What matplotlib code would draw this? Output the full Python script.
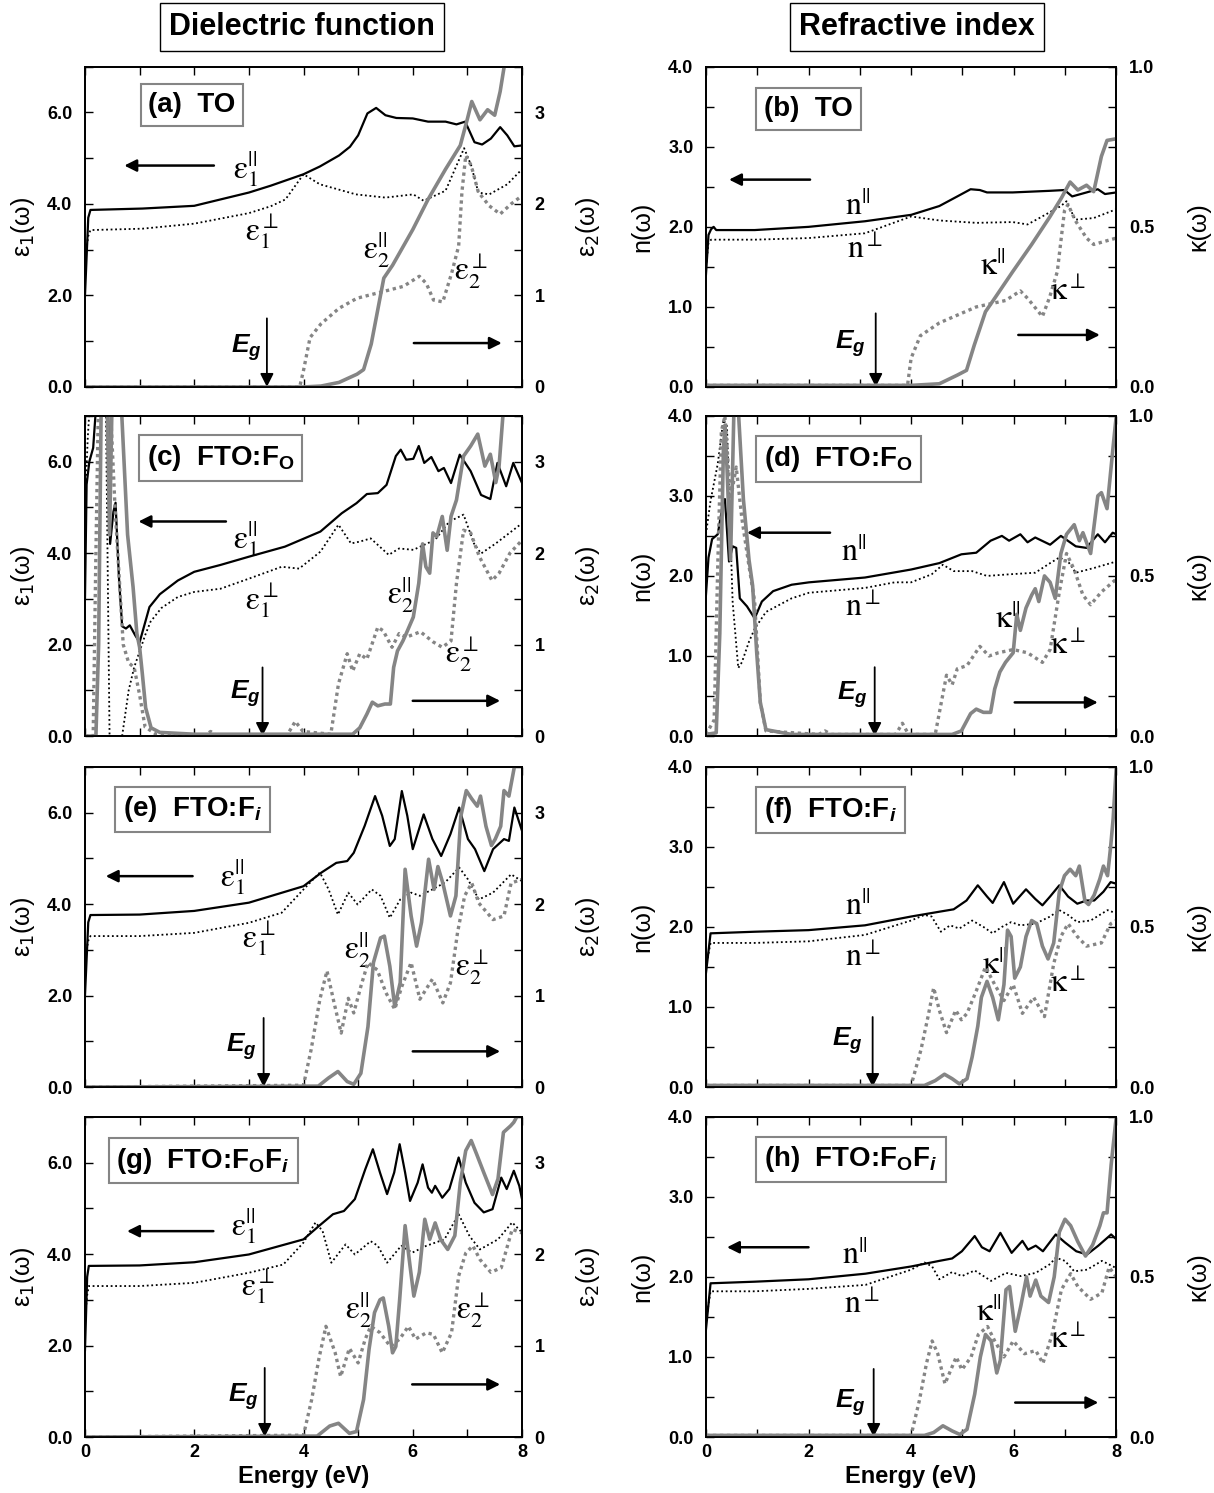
import matplotlib
matplotlib.use('Agg')
import matplotlib.pyplot as plt
from matplotlib.ticker import MultipleLocator, FormatStrFormatter

plt.rcParams['font.family'] = ['Liberation Sans', 'DejaVu Sans']
plt.rcParams['mathtext.fontset'] = 'custom'
plt.rcParams['mathtext.rm'] = 'Liberation Sans:bold'
plt.rcParams['mathtext.it'] = 'Liberation Sans:italic:bold'
plt.rcParams['mathtext.bf'] = 'Liberation Sans:bold'

# ---- (a) TO : dielectric function ----
A_E1PAR_E = [0.0, 0.06, 0.1, 1.05, 2.0, 3.0, 3.4, 4.0, 4.3, 4.65, 4.85, 5.0, 5.17, 5.33, 5.5, 5.7, 6.0, 6.28, 6.6, 6.8, 6.96, 7.13, 7.27, 7.43, 7.6, 7.73, 7.86, 8.0]
A_E1PAR = [2.0, 3.7, 3.87, 3.9, 3.96, 4.25, 4.4, 4.65, 4.82, 5.06, 5.25, 5.5, 5.98, 6.1, 5.94, 5.88, 5.87, 5.8, 5.8, 5.74, 5.8, 5.35, 5.3, 5.43, 5.68, 5.5, 5.26, 5.28]
A_E1PERP_E = [0.0, 0.06, 0.1, 1.05, 2.0, 3.0, 3.4, 3.67, 4.0, 4.3, 4.96, 5.5, 6.01, 6.2, 6.6, 6.94, 7.07, 7.2, 7.4, 7.73, 8.0]
A_E1PERP = [2.8, 3.3, 3.43, 3.46, 3.57, 3.8, 3.95, 4.1, 4.65, 4.43, 4.21, 4.14, 4.21, 4.07, 4.29, 5.22, 4.84, 4.25, 4.21, 4.43, 4.76]
A_E2PAR_E = [0.0, 4.0, 4.32, 4.65, 4.98, 5.1, 5.24, 5.47, 5.63, 6.0, 6.28, 6.6, 6.87, 7.0, 7.08, 7.23, 7.37, 7.5, 7.6, 7.7, 8.0]
A_E2PAR = [0.0, 0.0, 0.01, 0.05, 0.14, 0.19, 0.47, 1.19, 1.33, 1.72, 2.05, 2.38, 2.64, 2.93, 3.12, 2.92, 3.03, 2.97, 3.23, 3.6, 4.5]
A_E2PERP_E = [0.0, 3.93, 4.0, 4.12, 4.32, 4.65, 4.98, 5.44, 5.83, 6.12, 6.25, 6.38, 6.55, 6.71, 6.84, 6.9, 6.97, 7.07, 7.2, 7.4, 7.6, 7.8, 8.0]
A_E2PERP = [0.0, 0.0, 0.18, 0.54, 0.69, 0.86, 0.97, 1.04, 1.1, 1.21, 1.13, 0.95, 0.93, 1.24, 1.54, 2.13, 2.53, 2.42, 2.13, 1.98, 1.89, 2.0, 2.09]

# ---- (b) TO : refractive index ----
B_NPAR_E = [0.0, 0.05, 0.1, 0.15, 0.2, 0.95, 2.0, 3.1, 4.0, 4.55, 4.9, 5.16, 5.34, 5.48, 5.98, 6.7, 6.99, 7.14, 7.42, 7.64, 7.78, 8.0]
B_NPAR = [1.4, 1.9, 1.97, 2.0, 1.96, 1.96, 2.0, 2.07, 2.15, 2.26, 2.38, 2.47, 2.46, 2.43, 2.43, 2.45, 2.46, 2.38, 2.43, 2.47, 2.41, 2.43]
B_NPERP_E = [0.0, 0.05, 0.1, 0.95, 2.0, 3.1, 4.0, 4.55, 5.27, 5.98, 6.27, 6.5, 6.92, 7.03, 7.2, 7.56, 8.0]
B_NPERP = [1.5, 1.8, 1.84, 1.84, 1.86, 1.92, 2.13, 2.08, 2.05, 2.06, 2.03, 2.11, 2.26, 2.32, 2.09, 2.11, 2.22]
B_KPAR_E = [0.0, 4.0, 4.55, 4.9, 5.08, 5.23, 5.45, 5.6, 5.98, 6.35, 6.7, 6.93, 7.1, 7.25, 7.42, 7.56, 7.71, 7.82, 8.0]
B_KPAR = [0.005, 0.005, 0.01, 0.037, 0.052, 0.13, 0.235, 0.27, 0.36, 0.445, 0.53, 0.59, 0.64, 0.615, 0.63, 0.61, 0.72, 0.77, 0.775]
B_KPERP_E = [0.0, 3.93, 4.0, 4.18, 4.55, 5.27, 5.84, 6.13, 6.27, 6.56, 6.7, 6.85, 6.99, 7.06, 7.2, 7.42, 7.56, 8.0]
B_KPERP = [0.005, 0.005, 0.09, 0.16, 0.2, 0.25, 0.27, 0.3, 0.277, 0.22, 0.28, 0.36, 0.55, 0.57, 0.52, 0.465, 0.445, 0.465]

# ---- (c) FTO:Fo : dielectric function ----
C_E1PAR_E = [0.0, 0.03, 0.08, 0.15, 0.22, 0.42, 0.46, 0.52, 0.56, 0.62, 0.68, 0.75, 0.82, 0.92, 1.0, 1.18, 1.37, 1.7, 2.0, 2.48, 3.0, 3.66, 4.31, 4.7, 4.97, 5.16, 5.36, 5.52, 5.69, 5.78, 5.88, 6.01, 6.11, 6.21, 6.34, 6.47, 6.57, 6.7, 6.86, 7.06, 7.25, 7.42, 7.55, 7.71, 7.84, 8.0]
C_E1PAR = [3.0, 5.5, 6.0, 6.3, 7.5, 7.5, 4.2, 4.9, 5.1, 3.5, 2.4, 2.35, 2.42, 2.2, 2.05, 2.82, 3.1, 3.4, 3.59, 3.74, 3.92, 4.14, 4.47, 4.87, 5.09, 5.29, 5.31, 5.49, 6.12, 6.26, 6.04, 6.06, 6.34, 5.97, 6.1, 5.79, 5.86, 5.53, 6.15, 5.79, 5.27, 5.18, 5.97, 5.46, 5.97, 5.53]
C_E1PERP_E = [0.0, 0.05, 0.1, 0.38, 0.45, 0.47, 0.64, 0.68, 0.8, 0.9, 1.0, 1.1, 1.2, 1.4, 1.7, 2.0, 2.48, 3.0, 3.6, 3.92, 4.31, 4.64, 4.87, 5.03, 5.23, 5.56, 5.75, 6.01, 6.41, 6.67, 6.93, 7.12, 7.25, 7.52, 8.0]
C_E1PERP = [5.0, 6.5, 7.5, 7.5, 0.0, -0.5, -0.5, 0.0, 1.0, 1.5, 1.85, 2.2, 2.5, 2.8, 3.04, 3.15, 3.22, 3.44, 3.7, 3.66, 4.03, 4.62, 4.21, 4.25, 4.32, 3.96, 4.1, 4.07, 4.29, 4.69, 4.84, 4.21, 3.99, 4.21, 4.65]
C_E2PAR_E = [0.0, 0.2, 0.25, 0.3, 0.4, 0.45, 0.5, 0.65, 0.78, 0.88, 0.95, 1.0, 1.05, 1.11, 1.21, 1.37, 2.0, 4.9, 5.03, 5.16, 5.26, 5.36, 5.49, 5.59, 5.65, 5.72, 5.82, 5.88, 6.01, 6.11, 6.18, 6.24, 6.31, 6.37, 6.44, 6.54, 6.63, 6.7, 6.8, 6.93, 7.06, 7.19, 7.32, 7.42, 7.52, 7.58, 7.65, 8.0]
C_E2PAR = [0.0, 0.0, 1.0, 3.8, 3.8, 2.2, 3.8, 3.8, 2.2, 1.63, 1.12, 0.97, 0.68, 0.31, 0.09, 0.04, 0.02, 0.02, 0.09, 0.24, 0.37, 0.33, 0.35, 0.35, 0.75, 0.93, 1.04, 1.12, 1.3, 1.67, 2.1, 1.85, 1.78, 2.22, 2.18, 2.4, 2.03, 2.4, 2.58, 3.06, 3.17, 3.3, 2.95, 3.08, 2.77, 2.95, 3.5, 4.5]
C_E2PERP_E = [0.0, 0.15, 0.2, 0.25, 0.35, 0.45, 0.55, 0.7, 0.8, 0.9, 1.0, 1.1, 1.3, 2.2, 2.3, 2.4, 3.7, 3.85, 3.99, 4.5, 4.64, 4.8, 4.9, 5.03, 5.16, 5.36, 5.46, 5.62, 5.75, 5.88, 6.14, 6.37, 6.54, 6.7, 6.8, 6.93, 7.06, 7.22, 7.45, 7.58, 7.78, 8.0]
C_E2PERP = [0.0, 0.0, 2.0, 3.8, 3.8, 3.8, 2.5, 1.0, 0.8, 0.75, 0.45, 0.1, 0.02, 0.01, 0.05, 0.01, 0.01, 0.16, 0.05, 0.02, 0.57, 0.9, 0.71, 0.9, 0.84, 1.19, 1.15, 0.97, 1.12, 1.08, 1.14, 1.03, 0.97, 1.04, 1.67, 2.25, 2.22, 1.96, 1.7, 1.78, 2.0, 2.14]

# ---- (d) FTO:Fo : refractive index ----
D_NPAR_E = [0.0, 0.05, 0.12, 0.23, 0.34, 0.37, 0.45, 0.52, 0.59, 0.66, 0.8, 0.95, 1.09, 1.31, 1.67, 2.01, 3.1, 4.0, 4.55, 4.98, 5.27, 5.55, 5.77, 5.91, 6.13, 6.27, 6.42, 6.71, 6.92, 7.21, 7.42, 7.64, 7.78, 7.93, 8.0]
D_NPAR = [1.76, 2.23, 2.46, 2.52, 2.94, 2.96, 2.18, 2.37, 2.35, 1.72, 1.62, 1.47, 1.68, 1.81, 1.89, 1.92, 1.98, 2.08, 2.16, 2.27, 2.29, 2.44, 2.5, 2.44, 2.52, 2.42, 2.48, 2.39, 2.5, 2.37, 2.35, 2.52, 2.42, 2.54, 2.52]
D_NPERP_E = [0.0, 0.09, 0.23, 0.34, 0.41, 0.52, 0.63, 0.7, 0.84, 0.95, 1.17, 1.67, 2.01, 3.1, 3.68, 4.0, 4.4, 4.62, 4.83, 5.19, 5.48, 5.91, 6.42, 6.71, 6.89, 7.06, 7.21, 7.57, 8.0]
D_NPERP = [2.52, 2.94, 3.4, 3.95, 3.87, 1.68, 0.85, 0.92, 1.18, 1.34, 1.55, 1.72, 1.79, 1.85, 1.92, 1.92, 2.02, 2.14, 2.06, 2.06, 2.0, 2.02, 2.04, 2.16, 2.23, 2.18, 2.04, 2.1, 2.18]
D_KPAR_E = [0.0, 0.2, 0.27, 0.34, 0.37, 0.41, 0.48, 0.55, 0.62, 0.73, 0.84, 0.91, 0.99, 1.06, 1.17, 1.67, 4.8, 4.98, 5.16, 5.27, 5.41, 5.55, 5.63, 5.73, 5.84, 5.99, 6.06, 6.13, 6.24, 6.35, 6.42, 6.49, 6.6, 6.71, 6.81, 6.92, 7.03, 7.18, 7.28, 7.35, 7.5, 7.64, 7.71, 7.82, 7.93, 8.0]
D_KPAR = [0.005, 0.01, 0.32, 0.89, 0.97, 0.84, 0.55, 1.05, 1.05, 0.74, 0.55, 0.47, 0.26, 0.105, 0.02, 0.005, 0.005, 0.016, 0.07, 0.084, 0.074, 0.074, 0.147, 0.2, 0.23, 0.26, 0.38, 0.33, 0.4, 0.44, 0.46, 0.42, 0.5, 0.48, 0.43, 0.57, 0.63, 0.66, 0.61, 0.635, 0.57, 0.75, 0.76, 0.71, 0.89, 1.0]
D_KPERP_E = [0.0, 0.16, 0.23, 0.3, 0.37, 0.48, 0.59, 0.7, 0.84, 0.95, 1.06, 1.17, 2.2, 2.32, 2.45, 3.7, 3.83, 3.95, 4.47, 4.69, 4.8, 4.9, 5.09, 5.34, 5.52, 5.7, 5.99, 6.27, 6.56, 6.71, 6.89, 7.03, 7.18, 7.35, 7.5, 7.71, 8.0]
D_KPERP = [0.005, 0.05, 0.53, 0.95, 1.0, 0.74, 0.84, 0.68, 0.53, 0.42, 0.105, 0.016, 0.005, 0.016, 0.005, 0.005, 0.04, 0.005, 0.005, 0.19, 0.16, 0.21, 0.22, 0.28, 0.25, 0.26, 0.27, 0.26, 0.23, 0.27, 0.45, 0.57, 0.52, 0.44, 0.41, 0.45, 0.49]

# ---- (e) FTO:Fi : dielectric function ----
E_E1PAR_E = [0.0, 0.06, 0.1, 1.0, 2.0, 3.0, 4.0, 4.33, 4.6, 4.8, 4.92, 5.12, 5.31, 5.44, 5.58, 5.67, 5.8, 5.9, 6.0, 6.2, 6.36, 6.52, 6.69, 6.85, 7.01, 7.14, 7.31, 7.47, 7.67, 7.76, 7.86, 8.0]
E_E1PAR = [2.0, 3.6, 3.76, 3.77, 3.85, 4.03, 4.39, 4.69, 4.9, 4.94, 5.12, 5.71, 6.36, 5.93, 5.27, 5.42, 6.47, 5.93, 5.2, 5.96, 5.42, 5.05, 5.53, 6.11, 5.42, 5.2, 4.72, 5.2, 5.42, 5.38, 6.11, 5.6]
E_E1PERP_E = [0.0, 0.06, 0.1, 1.0, 2.0, 3.0, 3.6, 4.0, 4.3, 4.46, 4.63, 4.82, 4.99, 5.25, 5.41, 5.58, 5.77, 5.97, 6.13, 6.36, 6.59, 6.85, 7.01, 7.21, 7.47, 7.8, 8.0]
E_E1PERP = [2.8, 3.2, 3.3, 3.3, 3.37, 3.59, 3.81, 4.32, 4.69, 4.32, 3.77, 4.25, 3.99, 4.32, 4.18, 3.7, 4.1, 4.25, 4.18, 4.32, 4.47, 4.8, 4.54, 4.1, 4.25, 4.65, 4.5]
E_E2PAR_E = [0.0, 4.27, 4.46, 4.63, 4.8, 4.92, 5.05, 5.18, 5.28, 5.41, 5.48, 5.58, 5.67, 5.77, 5.86, 5.97, 6.07, 6.16, 6.29, 6.39, 6.46, 6.55, 6.69, 6.79, 6.88, 6.98, 7.08, 7.18, 7.24, 7.34, 7.44, 7.51, 7.61, 7.67, 7.76, 7.86, 7.93, 8.0]
E_E2PAR = [0.0, 0.01, 0.1, 0.17, 0.06, 0.03, 0.15, 0.66, 1.36, 1.63, 1.65, 1.32, 0.88, 1.14, 2.38, 1.87, 1.54, 1.8, 2.49, 2.16, 2.41, 2.23, 1.87, 2.09, 2.96, 3.24, 3.15, 3.07, 3.18, 2.85, 2.64, 2.71, 2.85, 3.24, 3.18, 3.5, 3.6, 3.9]
E_E2PERP_E = [0.0, 4.0, 4.14, 4.3, 4.43, 4.56, 4.69, 4.82, 4.92, 5.05, 5.18, 5.35, 5.51, 5.67, 5.8, 5.97, 6.13, 6.36, 6.55, 6.69, 6.82, 6.95, 7.08, 7.21, 7.47, 7.67, 7.8, 8.0]
E_E2PERP = [0.0, 0.02, 0.41, 0.96, 1.27, 0.92, 0.59, 0.97, 0.81, 1.1, 1.36, 1.28, 1.03, 0.85, 1.1, 1.36, 0.96, 1.18, 0.92, 1.14, 1.69, 2.09, 2.23, 2.01, 1.83, 1.87, 2.23, 2.27]

# ---- (f) FTO:Fi : refractive index ----
F_NPAR_E = [0.0, 0.09, 0.95, 2.0, 3.1, 4.0, 4.55, 4.83, 5.08, 5.3, 5.48, 5.59, 5.81, 5.99, 6.24, 6.42, 6.56, 6.71, 6.89, 7.06, 7.24, 7.42, 7.57, 7.75, 7.89, 8.0]
F_NPAR = [1.42, 1.92, 1.94, 1.96, 2.02, 2.13, 2.19, 2.22, 2.33, 2.52, 2.38, 2.3, 2.56, 2.29, 2.47, 2.35, 2.27, 2.38, 2.52, 2.38, 2.29, 2.33, 2.33, 2.44, 2.56, 2.54]
F_NPERP_E = [0.0, 0.09, 0.95, 2.0, 3.1, 4.0, 4.26, 4.4, 4.58, 4.76, 4.94, 5.19, 5.41, 5.59, 5.77, 5.95, 6.13, 6.42, 6.71, 6.89, 7.06, 7.24, 7.5, 7.83, 8.0]
F_NPERP = [1.5, 1.8, 1.8, 1.82, 1.9, 2.08, 2.15, 2.13, 1.94, 2.02, 1.98, 2.08, 2.0, 1.92, 2.0, 2.06, 2.02, 2.04, 2.13, 2.21, 2.15, 2.06, 2.08, 2.21, 2.17]
F_KPAR_E = [0.0, 4.26, 4.47, 4.65, 4.8, 4.94, 5.09, 5.19, 5.3, 5.37, 5.48, 5.59, 5.7, 5.81, 5.88, 5.95, 6.02, 6.13, 6.24, 6.35, 6.45, 6.56, 6.67, 6.78, 6.89, 6.99, 7.1, 7.21, 7.28, 7.39, 7.46, 7.57, 7.68, 7.75, 7.83, 7.89, 7.94, 8.0]
F_KPAR = [0.005, 0.005, 0.02, 0.04, 0.026, 0.01, 0.026, 0.094, 0.19, 0.28, 0.33, 0.28, 0.21, 0.32, 0.49, 0.47, 0.34, 0.375, 0.47, 0.52, 0.51, 0.44, 0.4, 0.45, 0.61, 0.66, 0.68, 0.66, 0.69, 0.58, 0.57, 0.6, 0.65, 0.69, 0.66, 0.75, 0.84, 1.0]
F_KPERP_E = [0.0, 4.0, 4.19, 4.33, 4.44, 4.55, 4.69, 4.87, 4.98, 5.09, 5.27, 5.45, 5.63, 5.81, 5.99, 6.17, 6.39, 6.6, 6.78, 6.92, 7.06, 7.24, 7.42, 7.71, 7.89, 8.0]
F_KPERP = [0.005, 0.005, 0.115, 0.22, 0.31, 0.24, 0.17, 0.24, 0.21, 0.23, 0.3, 0.375, 0.32, 0.27, 0.32, 0.23, 0.28, 0.22, 0.385, 0.47, 0.51, 0.47, 0.44, 0.45, 0.51, 0.52]

# ---- (g) FTO:FoFi : dielectric function ----
G_E1PAR_E = [0.0, 0.04, 0.07, 1.0, 2.0, 3.0, 4.0, 4.28, 4.54, 4.74, 4.94, 5.13, 5.27, 5.4, 5.53, 5.66, 5.76, 5.86, 5.95, 6.09, 6.18, 6.28, 6.35, 6.41, 6.54, 6.67, 6.84, 6.97, 7.13, 7.3, 7.46, 7.62, 7.72, 7.85, 7.95, 8.0]
G_E1PAR = [1.9, 3.5, 3.74, 3.75, 3.82, 3.99, 4.32, 4.61, 4.87, 4.94, 5.2, 5.85, 6.29, 5.78, 5.31, 5.78, 6.4, 5.78, 5.16, 5.56, 5.96, 5.45, 5.34, 5.49, 5.23, 5.42, 6.11, 5.56, 5.12, 4.91, 4.98, 5.67, 5.42, 5.82, 5.49, 5.2]
G_E1PERP_E = [0.0, 0.04, 0.07, 1.0, 2.0, 3.0, 3.63, 4.0, 4.22, 4.35, 4.51, 4.77, 4.94, 5.23, 5.36, 5.53, 5.79, 5.99, 6.25, 6.58, 6.84, 7.04, 7.23, 7.56, 7.82, 8.0]
G_E1PERP = [2.6, 3.1, 3.3, 3.3, 3.37, 3.59, 3.77, 4.25, 4.69, 4.5, 3.81, 4.21, 3.99, 4.28, 4.18, 3.81, 4.18, 4.03, 4.18, 4.32, 4.87, 4.39, 4.1, 4.32, 4.69, 4.47]
G_E2PAR_E = [0.0, 4.25, 4.48, 4.64, 4.84, 4.97, 5.1, 5.2, 5.3, 5.4, 5.46, 5.56, 5.63, 5.69, 5.76, 5.86, 5.95, 6.02, 6.12, 6.22, 6.31, 6.41, 6.51, 6.64, 6.77, 6.87, 6.97, 7.07, 7.17, 7.3, 7.46, 7.56, 7.66, 7.79, 7.85, 7.95, 8.0]
G_E2PAR = [0.0, 0.01, 0.12, 0.15, 0.04, 0.06, 0.41, 0.96, 1.36, 1.5, 1.52, 1.21, 0.92, 0.99, 1.5, 2.31, 1.87, 1.54, 1.8, 2.38, 2.16, 2.34, 2.16, 2.05, 2.2, 2.78, 3.13, 3.24, 3.09, 2.89, 2.65, 2.82, 3.33, 3.4, 3.44, 3.55, 3.7]
G_E2PERP_E = [0.0, 4.0, 4.15, 4.28, 4.41, 4.58, 4.68, 4.84, 5.0, 5.13, 5.23, 5.4, 5.59, 5.76, 5.92, 6.05, 6.25, 6.38, 6.54, 6.71, 6.84, 6.97, 7.1, 7.23, 7.43, 7.62, 7.82, 8.0]
G_E2PERP = [0.0, 0.02, 0.41, 0.85, 1.21, 0.92, 0.66, 0.97, 0.81, 1.07, 1.21, 1.14, 0.99, 1.07, 1.21, 1.07, 1.14, 1.12, 0.92, 1.14, 1.76, 2.01, 2.09, 1.94, 1.8, 1.85, 2.27, 2.23]

# ---- (h) FTO:FoFi : refractive index ----
H_NPAR_E = [0.0, 0.09, 0.95, 2.0, 3.11, 4.0, 4.55, 4.8, 4.99, 5.24, 5.38, 5.53, 5.74, 5.96, 6.17, 6.28, 6.43, 6.57, 6.82, 7.0, 7.22, 7.43, 7.65, 7.9, 8.0]
H_NPAR = [1.34, 1.92, 1.94, 1.97, 2.04, 2.13, 2.2, 2.23, 2.32, 2.51, 2.37, 2.32, 2.55, 2.3, 2.45, 2.34, 2.39, 2.32, 2.53, 2.43, 2.32, 2.28, 2.39, 2.53, 2.47]
H_NPERP_E = [0.0, 0.09, 0.95, 2.0, 3.11, 4.0, 4.26, 4.41, 4.55, 4.8, 4.99, 5.24, 5.56, 5.85, 6.14, 6.43, 6.71, 6.82, 7.0, 7.18, 7.43, 7.72, 8.0]
H_NPERP = [1.45, 1.82, 1.82, 1.85, 1.9, 2.09, 2.18, 2.13, 1.97, 2.06, 2.01, 2.08, 1.95, 2.05, 2.01, 2.05, 2.16, 2.24, 2.2, 2.07, 2.09, 2.2, 2.11]
H_KPAR_E = [0.0, 4.26, 4.44, 4.62, 4.8, 4.95, 5.09, 5.24, 5.35, 5.45, 5.56, 5.67, 5.74, 5.85, 5.92, 6.03, 6.14, 6.25, 6.32, 6.43, 6.53, 6.68, 6.79, 6.89, 7.0, 7.11, 7.25, 7.4, 7.54, 7.68, 7.75, 7.82, 7.9, 8.0]
H_KPAR = [0.005, 0.005, 0.014, 0.035, 0.019, 0.008, 0.024, 0.134, 0.25, 0.32, 0.3, 0.2, 0.24, 0.46, 0.47, 0.33, 0.41, 0.5, 0.44, 0.49, 0.44, 0.42, 0.5, 0.64, 0.68, 0.66, 0.61, 0.565, 0.6, 0.66, 0.7, 0.7, 0.85, 1.0]
H_KPERP_E = [0.0, 4.0, 4.16, 4.3, 4.41, 4.52, 4.66, 4.88, 4.99, 5.17, 5.31, 5.49, 5.63, 5.81, 5.99, 6.21, 6.43, 6.57, 6.75, 6.93, 7.11, 7.25, 7.5, 7.72, 7.86, 8.0]
H_KPERP = [0.005, 0.005, 0.113, 0.23, 0.3, 0.26, 0.166, 0.25, 0.21, 0.25, 0.32, 0.345, 0.3, 0.25, 0.3, 0.26, 0.27, 0.23, 0.32, 0.46, 0.51, 0.47, 0.43, 0.45, 0.53, 0.5]

GREY = '#858585'
COL_X = [(0.070, 0.360), (0.5815, 0.338)]
ROW_BOTTOM = [0.7408, 0.507, 0.2719, 0.0375]
AX_H = 0.2145

fig = plt.figure(figsize=(12.14, 14.93), dpi=100)


def make_panel(row, col):
    x0, w = COL_X[col]
    ax = fig.add_axes([x0, ROW_BOTTOM[row], w, AX_H])
    ax2 = ax.twinx()
    ax.set_xlim(0, 8)
    ax.xaxis.set_major_locator(MultipleLocator(2))
    ax.xaxis.set_minor_locator(MultipleLocator(1))
    if col == 0:
        ax.set_ylim(0, 7)
        ax2.set_ylim(0, 3.5)
        ax.yaxis.set_major_locator(MultipleLocator(2))
        ax.yaxis.set_minor_locator(MultipleLocator(1))
        ax2.yaxis.set_major_locator(MultipleLocator(1))
        ax2.yaxis.set_minor_locator(MultipleLocator(0.5))
        ax2.yaxis.set_major_formatter(FormatStrFormatter('%d'))
        ax.set_ylabel('ε$_\\mathsf{1}$(ω)', fontsize=18, math_fontfamily='dejavusans')
        ax2.set_ylabel('ε$_\\mathsf{2}$(ω)', fontsize=18, math_fontfamily='dejavusans')
        ax.yaxis.set_label_coords(-0.11, 0.5)
        ax2.yaxis.set_label_coords(1.12, 0.5)
    else:
        ax.set_ylim(0, 4)
        ax2.set_ylim(0, 1)
        ax.yaxis.set_major_locator(MultipleLocator(1))
        ax.yaxis.set_minor_locator(MultipleLocator(0.5))
        ax2.yaxis.set_major_locator(MultipleLocator(0.5))
        ax2.yaxis.set_minor_locator(MultipleLocator(0.125))
        ax2.yaxis.set_major_formatter(FormatStrFormatter('%.1f'))
        ax.set_ylabel('n(ω)', fontsize=18)
        ax2.set_ylabel('κ(ω)', fontsize=18)
        ax.yaxis.set_label_coords(-0.125, 0.5)
        ax2.yaxis.set_label_coords(1.17, 0.5)
    ax.yaxis.set_major_formatter(FormatStrFormatter('%.1f'))
    ax.tick_params(which='both', direction='in', length=6, width=1.0,
                   top=True, right=False, labelsize=13, pad=9)
    ax.tick_params(axis='x', pad=5)
    ax2.tick_params(which='both', direction='in', length=6, width=1.0,
                    labelsize=13, pad=9)
    if row == 3:
        ax.set_xlabel('Energy (eV)', fontsize=17, fontweight='bold', labelpad=3)
    else:
        ax.tick_params(labelbottom=False)
    plt.setp(ax.get_xticklabels() + ax.get_yticklabels() + ax2.get_yticklabels(),
             fontweight='bold')
    for a in (ax, ax2):
        for sp in a.spines.values():
            sp.set_linewidth(1.3)
    return ax, ax2


def draw_curves(ax, ax2, par1, perp1, par2, perp2):
    ax.plot(*par1, color='black', lw=1.6)
    ax.plot(*perp1, color='black', lw=1.3, ls=(0, (1, 1.5)))
    ax2.plot(*par2, color=GREY, lw=2.6)
    ax2.plot(*perp2, color=GREY, lw=2.4, ls=(0, (1, 1.1)))


def decorate(ax, label, pos, names, npos, left_arr, right_arr, eg_x, eg_top, eg_lab):
    ax.text(pos[0], pos[1], label, transform=ax.transAxes, fontsize=20,
            fontweight='bold', ha='left', va='center', zorder=5,
            bbox=dict(boxstyle='square,pad=0.28', fc='white', ec=GREY, lw=1.5))
    for name, (x, y) in zip(names, npos):
        ax.text(x, y, name, fontsize=23, ha='center', va='center',
                math_fontfamily='stix', zorder=6)
    arrow = dict(arrowstyle='-|>', color='black', lw=1.8, mutation_scale=18,
                 shrinkA=0, shrinkB=0)
    if left_arr is not None:
        y, x1, x2 = left_arr
        ax.annotate('', xy=(x2, y), xytext=(x1, y), arrowprops=arrow)
    if right_arr is not None:
        y, x1, x2 = right_arr
        ax.annotate('', xy=(x2, y), xytext=(x1, y), arrowprops=arrow)
    ax.annotate('', xy=(eg_x, 0.0), xytext=(eg_x, eg_top),
                arrowprops=dict(arrowstyle='-|>', color='black', lw=1.3,
                                mutation_scale=20, shrinkA=0, shrinkB=0))
    ax.text(eg_lab[0], eg_lab[1], r'$\mathit{E}_{\mathit{g}}$', fontsize=19,
            ha='center', va='center')


EPS_NAMES = [r'$\mathrm{\varepsilon}_1^{||}$', r'$\mathrm{\varepsilon}_1^{\perp}$',
             r'$\mathrm{\varepsilon}_2^{||}$', r'$\mathrm{\varepsilon}_2^{\perp}$']
N_NAMES = [r'$\mathrm{n}^{||}$', r'$\mathrm{n}^{\perp}$',
           r'$\mathrm{\kappa}^{||}$', r'$\mathrm{\kappa}^{\perp}$']

# (a)
ax, ax2 = make_panel(0, 0)
draw_curves(ax, ax2, (A_E1PAR_E, A_E1PAR), (A_E1PERP_E, A_E1PERP),
            (A_E2PAR_E, A_E2PAR), (A_E2PERP_E, A_E2PERP))
decorate(ax, '(a)  TO', (0.145, 0.88), EPS_NAMES,
         [(2.95, 4.75), (3.25, 3.4), (5.33, 3.0), (7.07, 2.55)],
         (4.84, 2.36, 0.72), (0.96, 6.02, 7.63), 3.33, 1.5, (2.95, 0.87))

# (b)
ax, ax2 = make_panel(0, 1)
draw_curves(ax, ax2, (B_NPAR_E, B_NPAR), (B_NPERP_E, B_NPERP),
            (B_KPAR_E, B_KPAR), (B_KPERP_E, B_KPERP))
decorate(ax, '(b)  TO', (0.142, 0.868), N_NAMES,
         [(2.96, 2.25), (3.1, 1.72), (5.6, 1.5), (7.06, 1.19)],
         (2.59, 2.03, 0.45), (0.65, 6.09, 7.68), 3.31, 0.92, (2.82, 0.54))

# (c)
ax, ax2 = make_panel(1, 0)
draw_curves(ax, ax2, (C_E1PAR_E, C_E1PAR), (C_E1PERP_E, C_E1PERP),
            (C_E2PAR_E, C_E2PAR), (C_E2PERP_E, C_E2PERP))
decorate(ax, r'(c)  FTO:F$_\mathrm{O}$', (0.141, 0.869), EPS_NAMES,
         [(2.94, 4.3), (3.24, 2.97), (5.78, 3.1), (6.9, 1.8)],
         (4.69, 2.58, 0.98), (0.77, 6.0, 7.6), 3.25, 1.5, (2.94, 0.92))

# (d)
ax, ax2 = make_panel(1, 1)
draw_curves(ax, ax2, (D_NPAR_E, D_NPAR), (D_NPERP_E, D_NPERP),
            (D_KPAR_E, D_KPAR), (D_KPERP_E, D_KPERP))
decorate(ax, r'(d)  FTO:F$_\mathrm{O}$', (0.142, 0.865), N_NAMES,
         [(2.89, 2.29), (3.07, 1.6), (5.88, 1.45), (7.06, 1.13)],
         (2.54, 2.42, 0.8), (0.42, 6.02, 7.64), 3.29, 0.86, (2.86, 0.52))

# (e)
ax, ax2 = make_panel(2, 0)
draw_curves(ax, ax2, (E_E1PAR_E, E_E1PAR), (E_E1PERP_E, E_E1PERP),
            (E_E2PAR_E, E_E2PAR), (E_E2PERP_E, E_E2PERP))
decorate(ax, r'(e)  FTO:F$_\mathit{i}$', (0.087, 0.867), EPS_NAMES,
         [(2.7, 4.58), (3.19, 3.26), (4.99, 3.0), (7.08, 2.64)],
         (4.61, 1.97, 0.38), (0.78, 6.0, 7.6), 3.27, 1.51, (2.86, 0.89))

# (f)
ax, ax2 = make_panel(2, 1)
draw_curves(ax, ax2, (F_NPAR_E, F_NPAR), (F_NPERP_E, F_NPERP),
            (F_KPAR_E, F_KPAR), (F_KPERP_E, F_KPERP))
decorate(ax, r'(f)  FTO:F$_\mathit{i}$', (0.142, 0.865), N_NAMES,
         [(2.96, 2.25), (3.07, 1.62), (5.63, 1.52), (7.06, 1.29)],
         None, None, 3.25, 0.875, (2.75, 0.58))

# (g)
ax, ax2 = make_panel(3, 0)
draw_curves(ax, ax2, (G_E1PAR_E, G_E1PAR), (G_E1PERP_E, G_E1PERP),
            (G_E2PAR_E, G_E2PAR), (G_E2PERP_E, G_E2PERP))
decorate(ax, r'(g)  FTO:F$_\mathrm{O}$F$_\mathit{i}$', (0.072, 0.863), EPS_NAMES,
         [(2.9, 4.61), (3.17, 3.3), (5.0, 2.79), (7.1, 2.79)],
         (4.5, 2.35, 0.77), (1.15, 5.99, 7.6), 3.29, 1.51, (2.9, 0.89))

# (h)
ax, ax2 = make_panel(3, 1)
draw_curves(ax, ax2, (H_NPAR_E, H_NPAR), (H_NPERP_E, H_NPERP),
            (H_KPAR_E, H_KPAR), (H_KPERP_E, H_KPERP))
decorate(ax, r'(h)  FTO:F$_\mathrm{O}$F$_\mathit{i}$', (0.142, 0.867), N_NAMES,
         [(2.9, 2.26), (3.04, 1.65), (5.52, 1.55), (7.06, 1.21)],
         (2.37, 2.0, 0.41), (0.43, 6.03, 7.65), 3.27, 0.85, (2.82, 0.43))

# column headers
for x, txt in [(0.249, 'Dielectric function'), (0.755, 'Refractive index')]:
    fig.text(x, 0.982, txt, ha='center', va='center', fontsize=22,
             fontweight='bold', family=['Liberation Sans Narrow', 'Liberation Sans'],
             bbox=dict(boxstyle='square,pad=0.3', fc='white', ec='black', lw=1.0))

fig.savefig('out.png', dpi=100)
